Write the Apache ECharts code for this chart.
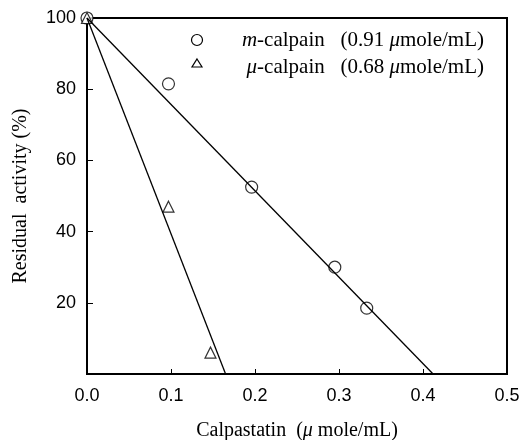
<!DOCTYPE html>
<html>
<head>
<meta charset="utf-8">
<script src="https://cdn.jsdelivr.net/npm/echarts@6/dist/echarts.min.js"></script>
<style>
html, body { margin: 0; padding: 0; background: #fff; }
#chart { width: 522px; height: 440px; }
</style>
</head>
<body>
<div id="chart"></div>
<script>
// 测量点
var mCalpain = [[0, 100], [0.097, 81.5], [0.196, 52.5], [0.295, 30], [0.333, 18.5]];
var uCalpain = [[0, 100], [0.097, 47], [0.147, 6]];
// 拟合直线
var mFit = [[0, 100], [0.412, 0]];
var uFit = [[0, 100], [0.165, 0]];
var xTicks = [0, 0.1, 0.2, 0.3, 0.4, 0.5];
var yTicks = [20, 40, 60, 80, 100];

var chart = echarts.init(document.getElementById('chart'));
var serif = '"Liberation Serif", "DejaVu Serif", serif';
var sans = '"Liberation Sans", Arial, sans-serif';

var legendRich = {
	i: { fontFamily: serif, fontStyle: 'italic', fontSize: 21, fill: '#000' },
	n: { fontFamily: serif, fontSize: 21, fill: '#000' }
};

var option = {
	backgroundColor: '#fff',
	animation: false,
	grid: {
		left: 87, right: 15, top: 18, bottom: 66,
		outerBoundsMode: 'none',
		show: true, borderColor: '#000', borderWidth: 2
	},
	xAxis: {
		type: 'value', min: 0, max: 0.5, interval: 0.1,
		name: '{n|Calpastatin  (}{i|\u03bc}{n| mole/mL)}',
		nameLocation: 'middle', nameGap: 47,
		nameTextStyle: {
			fontFamily: serif, fontSize: 20, color: '#000',
			rich: {
				n: { fontFamily: serif, fontSize: 20, color: '#000' },
				i: { fontFamily: serif, fontSize: 20, fontStyle: 'italic', color: '#000' }
			}
		},
		axisLine: { lineStyle: { color: '#000', width: 2 } },
		axisTick: { inside: true, length: 5, lineStyle: { color: '#000' } },
		axisLabel: {
			margin: 13, fontFamily: sans, fontSize: 18, color: '#000',
			formatter: function (v) { return xTicks.indexOf(+v.toFixed(1)) >= 0 ? v.toFixed(1) : ''; }
		},
		splitLine: { show: false }
	},
	yAxis: {
		type: 'value', min: 0, max: 100, interval: 20,
		name: 'Residual  activity (%)',
		nameLocation: 'middle', nameGap: 56,
		nameTextStyle: { fontFamily: serif, fontSize: 20, color: '#000' },
		axisLine: { lineStyle: { color: '#000', width: 2 } },
		axisTick: { inside: true, length: 6, lineStyle: { color: '#000' } },
		axisLabel: {
			margin: 11, fontFamily: sans, fontSize: 18, color: '#000',
			formatter: function (v) { return yTicks.indexOf(v) >= 0 ? String(v) : ''; }
		},
		splitLine: { show: false }
	},
	series: [{
		type: 'line', data: mFit, symbol: 'none',
		lineStyle: { color: '#000', width: 1.3 }
	}, {
		type: 'line', data: uFit, symbol: 'none',
		lineStyle: { color: '#000', width: 1.3 }
	}, {
		type: 'scatter', data: mCalpain, symbol: 'circle', symbolSize: 12,
		itemStyle: { color: '#fff', borderColor: '#000', borderWidth: 1.2 }
	}, {
		type: 'scatter', data: uCalpain, symbol: 'triangle', symbolSize: 11,
		itemStyle: { color: '#fff', borderColor: '#000', borderWidth: 1.2 }
	}],
	graphic: [{
		type: 'circle', shape: { cx: 197, cy: 40, r: 5.5 },
		style: { fill: '#fff', stroke: '#000', lineWidth: 1.2 }
	}, {
		type: 'polygon', shape: { points: [[197, 59], [202, 67], [192, 67]] },
		style: { fill: '#fff', stroke: '#000', lineWidth: 1.2 }
	}, {
		type: 'text', x: 484, y: 40,
		style: {
			text: '{i|m}{n|-calpain   (0.91 }{i|\u03bc}{n|mole/mL)}',
			rich: legendRich, align: 'right', verticalAlign: 'middle'
		}
	}, {
		type: 'text', x: 484, y: 67,
		style: {
			text: '{i|\u03bc}{n|-calpain   (0.68 }{i|\u03bc}{n|mole/mL)}',
			rich: legendRich, align: 'right', verticalAlign: 'middle'
		}
	}]
};

chart.setOption(option);
</script>
</body>
</html>
